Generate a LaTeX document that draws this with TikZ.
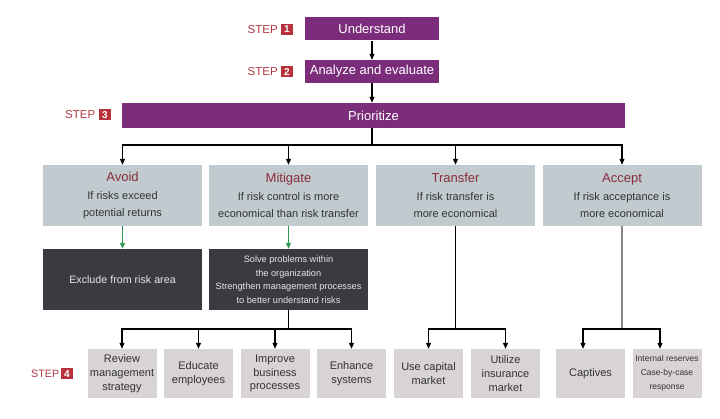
\documentclass[tikz,border=0pt]{standalone}
\usepackage{fontspec}
\setmainfont{Liberation Sans}
\usetikzlibrary{arrows.meta}
\definecolor{purp}{HTML}{7B2D7B}
\definecolor{optbg}{HTML}{C0CACF}
\definecolor{darkbg}{HTML}{3B3A40}
\definecolor{actbg}{HTML}{D8D3D5}
\definecolor{maroon}{HTML}{8A2E3B}
\definecolor{stepred}{HTML}{B8323D}
\definecolor{steptxt}{HTML}{B03A44}
\definecolor{txt}{HTML}{333333}
\definecolor{darktxt}{HTML}{E6E6E6}
\definecolor{arrgreen}{HTML}{2E9A55}
\definecolor{grayline}{HTML}{858585}
\begin{document}
\begin{tikzpicture}[x=1pt,y=-1pt,
  purplebox/.style={fill=purp,text=white,font=\fontsize{13}{15}\selectfont,inner sep=0pt,minimum height=23pt},
  optbox/.style={fill=optbg,align=center,text=txt,font=\fontsize{11}{17}\selectfont,minimum width=159pt,minimum height=61pt,inner sep=0pt},
  darkbox/.style={fill=darkbg,text=darktxt,align=center,minimum width=159pt,minimum height=61pt,inner sep=0pt},
  actbox/.style={fill=actbg,text=txt,align=center,minimum width=69pt,minimum height=49pt,inner sep=0pt,font=\fontsize{11}{13.8}\selectfont},
  steplbl/.style={text=steptxt,font=\fontsize{11.5}{13}\selectfont,inner sep=0pt,anchor=west},
  stepnum/.style={fill=stepred,text=white,font=\bfseries\fontsize{10}{11}\selectfont,minimum width=12pt,minimum height=11pt,inner sep=0pt},
  conn/.style={line width=1.1pt,draw=black},
  arr/.style={conn,-{Triangle[length=6pt,width=5pt]}},
  garr/.style={line width=1.1pt,draw=arrgreen,-{Triangle[length=6pt,width=5pt]}}]
\useasboundingbox (0,0) rectangle (720,419);
\fill[white] (0,0) rectangle (720,419);

% steps 1-3
\node[purplebox,minimum width=134pt] (und) at (372,29) {Understand};
\node[purplebox,minimum width=134pt] (ana) at (372,71.5) {Analyze and evaluate};
\node[purplebox,minimum width=503pt,minimum height=25pt] (prio) at (373.5,115.5) {Prioritize};

\node[steplbl] (s1) at (247.5,29.5) {STEP};
\node[stepnum] (n1) at (287,29.5) {1};
\node[steplbl] (s2) at (247.5,72) {STEP};
\node[stepnum] (n2) at (287,72) {2};
\node[steplbl] (s3) at (65,115) {STEP};
\node[stepnum] (n3) at (105,115) {3};
\node[steplbl,font=\fontsize{10.7}{13}\selectfont] (s4) at (31,374) {STEP};
\node[stepnum] (n4) at (67,374) {4};

% options
\node[optbox] (avoid) at (122.5,195.5) {{\fontsize{13}{17}\selectfont\color{maroon}Avoid}\\[1.5pt]If risks exceed\\potential returns};
\node[optbox] (mitig) at (288.5,195.5) {{\fontsize{13}{17}\selectfont\color{maroon}Mitigate}\\[1.5pt]If risk control is more\\economical than risk transfer};
\node[optbox] (trans) at (455.5,195.5) {{\fontsize{13}{17}\selectfont\color{maroon}Transfer}\\[1.5pt]If risk transfer is\\more economical};
\node[optbox] (accept) at (622,195.5) {{\fontsize{13}{17}\selectfont\color{maroon}Accept}\\[1.5pt]If risk acceptance is\\more economical};

% dark boxes
\node[darkbox,font=\fontsize{10.7}{13.5}\selectfont] (ad) at (122.5,279.5) {Exclude from risk area};
\node[darkbox,font=\fontsize{9.2}{13.5}\selectfont] (md) at (288.5,279.5) {Solve problems within\\the organization\\Strengthen management processes\\to better understand risks};

% actions
\node[actbox] (b1) at (122,373.5) {Review\\management\\strategy};
\node[actbox] (b2) at (198.5,373.5) {Educate\\employees};
\node[actbox] (b3) at (275,373.5) {Improve\\business\\processes};
\node[actbox] (b4) at (351.5,373.5) {Enhance\\systems};
\node[actbox] (b5) at (428.5,373.5) {Use capital\\market};
\node[actbox] (b6) at (505.5,373.5) {Utilize\\insurance\\market};
\node[actbox] (b7) at (590.5,373.5) {Captives};
\node[actbox,font=\fontsize{8.5}{13.8}\selectfont] (b8) at (667,373.5) {Internal reserves\\Case-by-case\\response};

% connectors
\draw[arr] (und) -- (ana);
\draw[arr] (ana) -- (prio.north -| ana);
\coordinate (j1) at (372,145);
\draw[conn] (prio.south -| ana) -- (j1);
\draw[arr] (j1) -| (avoid.north);
\draw[arr] (j1) -| (mitig.north);
\draw[arr] (j1) -| (trans.north);
\draw[arr] (j1) -| (accept.north);

\draw[garr] (avoid) -- (ad);
\draw[garr] (mitig) -- (md);

\coordinate (j2) at (288.5,329);
\draw[conn] (md.south) -- (j2);
\draw[arr] (j2) -| (b1.north);
\draw[arr] (j2) -| (b2.north);
\draw[arr] (j2) -| (b3.north);
\draw[arr] (j2) -| (b4.north);

\coordinate (j3) at (455.5,329);
\draw[conn] (trans.south) -- (j3);
\draw[arr] (j3) -| (b5.north);
\draw[arr] (j3) -| (b6.north);

\coordinate (j4) at (622,329);
\draw[line width=1.5pt,draw=grayline] (accept.south) -- (j4);
\draw[arr] (j4) -| ([xshift=-7.5pt]b7.north);
\draw[arr] (j4) -| ([xshift=-7pt]b8.north);
\end{tikzpicture}
\end{document}
